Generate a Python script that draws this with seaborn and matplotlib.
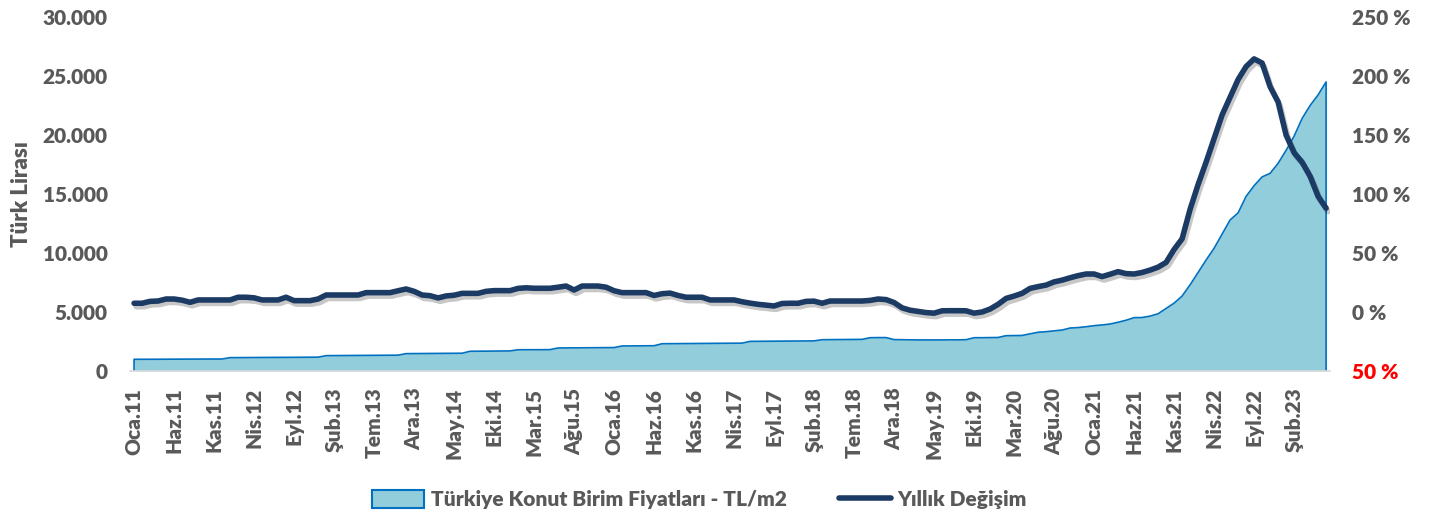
import numpy as np
import pandas as pd
import seaborn as sns
import matplotlib.pyplot as plt
from matplotlib import patheffects as pe
from matplotlib.lines import Line2D
from matplotlib.patches import Patch

'''
Veriler: Ocak 2011 - Haziran 2023, aylik
'''
months_tr = ['Oca', 'Şub', 'Mar', 'Nis', 'May', 'Haz',
             'Tem', 'Ağu', 'Eyl', 'Eki', 'Kas', 'Ara']
n = 150
labels = [months_tr[k % 12] + '.' + str(11 + k // 12) for k in range(n)]

# Türkiye Konut Birim Fiyatları - TL/m2
price = [
    990, 990, 995, 995, 1000, 1000, 1005, 1005, 1010, 1010, 1015, 1015,
    1130, 1135, 1140, 1140, 1145, 1150, 1150, 1155, 1160, 1160, 1165, 1170,
    1300, 1305, 1310, 1315, 1320, 1320, 1325, 1330, 1335, 1340,
    1470, 1475, 1480, 1485, 1490, 1495, 1500, 1505,
    1670, 1675, 1680, 1685, 1690, 1700,
    1800, 1800, 1805, 1805, 1810,
    1950, 1955, 1960, 1965, 1970, 1975, 1980, 1985,
    2120, 2125, 2130, 2135, 2140,
    2310, 2315, 2320, 2325, 2330, 2335, 2340, 2345, 2350, 2355, 2360,
    2510, 2515, 2520, 2525, 2530, 2535, 2540, 2545, 2550,
    2650, 2655, 2660, 2665, 2670, 2680,
    2820, 2830, 2830,
    2660, 2650, 2640, 2630, 2630, 2630, 2630, 2640, 2640, 2650,
    2820, 2820, 2830, 2840,
    2990, 3000, 3010,
    3150, 3280, 3330, 3400, 3470, 3640, 3680, 3750, 3840, 3900,
    3980, 4130, 4300, 4520, 4530, 4650, 4850, 5300, 5750, 6350,
    7300, 8350, 9400, 10400, 11600, 12800, 13400, 14800, 15700, 16450,
    16750, 17600, 18700, 19900, 21400, 22500, 23400, 24500,
]

# Yıllık Değişim (%)
yoy = [
    7.4, 7.4, 9, 9.3, 11, 11, 10, 8.2, 10.2, 10.2,
    10.2, 10.2, 10.2, 12.5, 12.5, 12, 10.2, 10.2, 10.2, 12.5,
    9.6, 9.6, 9.6, 11, 14.4, 14.4, 14.4, 14.4, 14.4, 16.4,
    16.4, 16.4, 16.4, 18, 19.5, 17.5, 14.4, 13.8, 11.9, 13.6,
    14.2, 15.8, 15.8, 15.8, 17.5, 18.1, 18.1, 18.1, 20, 20.5,
    20.1, 20.1, 20.1, 21, 22, 18.6, 22, 22, 22, 21,
    18, 16.4, 16.4, 16.4, 16.4, 14, 15.5, 16, 14, 12.5,
    12.5, 12.5, 10.2, 10.2, 10.2, 10.2, 8.7, 7.5, 6.5, 5.8,
    5.1, 7.2, 7.4, 7.4, 9, 9.2, 7.4, 9.3, 9.3, 9.3,
    9.3, 9.3, 9.8, 11, 10.5, 8, 3.5, 1.5, 0.5, -0.5,
    -1, 1, 1.1, 1.1, 1, -1, 0, 2.5, 6.5, 11.5,
    13.5, 15.8, 20, 21.5, 22.8, 25.5, 27, 29, 30.8, 32.2,
    32.2, 30, 32, 34.2, 32.5, 32.2, 33.5, 35.5, 38, 42,
    53, 62, 87, 108, 127, 147, 167, 182, 197, 208,
    214.5, 211, 191, 178, 150, 135, 127, 115, 98, 88,
]

df = pd.DataFrame({'idx': np.arange(n), 'fiyat': price, 'degisim': yoy})

gray = '#595959'
navy = '#1B3A64'
fill_col = '#92CDDC'
edge_col = '#0070C0'

sns.set_style('white')
plt.rcParams['font.family'] = ['Lato', 'DejaVu Sans']
plt.rcParams['font.weight'] = 'heavy'

fig = plt.figure(figsize=(14.42, 5.19), dpi=100)
ax = fig.add_axes([0.0902, 0.2852, 0.8322, 0.6820])

# alan grafigi
ax.fill_between(df.idx, 0, df.fiyat, color=fill_col, lw=0)
ox = np.concatenate([[df.idx.iloc[0]], df.idx, [df.idx.iloc[-1]]])
oy = np.concatenate([[0], df.fiyat, [0]])
ax.plot(ox, oy, color=edge_col, lw=1.2)

# yillik degisim
ax2 = ax.twinx()
sns.lineplot(data=df, x='idx', y='degisim', ax=ax2, color=navy, lw=4,
             solid_capstyle='round', solid_joinstyle='round',
             path_effects=[pe.SimpleLineShadow(offset=(1.5, -2.5), alpha=0.22),
                           pe.Normal()])

ax.set_xlim(-0.5, n - 0.5)
ax.set_ylim(0, 30000)
ax2.set_ylim(-50, 250)

ax.set_yticks(range(0, 30001, 5000))
ax.set_yticklabels([f'{v:,}'.replace(',', '.') for v in range(0, 30001, 5000)])
ax2.set_yticks(range(-50, 251, 50))
ax2.set_yticklabels([f'{abs(v)} %' for v in range(-50, 251, 50)])

ax.set_xticks(range(0, n, 5))
ax.set_xticklabels(labels[::5], rotation=90)
ax.set_xticks(np.arange(-0.5, n, 5), minor=True)

ax.tick_params(axis='x', which='major', length=0, pad=12, labelsize=15, labelcolor=gray)
ax.tick_params(axis='x', which='minor', length=6, width=1.2, color='#D9D9D9')
ax.tick_params(axis='y', length=0, pad=16, labelsize=15, labelcolor=gray)
ax2.tick_params(axis='y', length=0, pad=16, labelsize=15, labelcolor=gray)
ax2.get_yticklabels()[0].set_color('#FF0000')

ax.set_xlabel('')
ax2.set_xlabel('')
ax2.set_ylabel('')
ax.set_ylabel('Türk Lirası', fontsize=16, color=gray, fontweight='heavy', labelpad=8)

for s in ['left', 'right', 'top']:
    ax.spines[s].set_visible(False)
    ax2.spines[s].set_visible(False)
ax2.spines['bottom'].set_visible(False)
ax.spines['bottom'].set_color('#D9D9D9')
ax.spines['bottom'].set_linewidth(1.2)

handles = [
    Patch(facecolor=fill_col, edgecolor=edge_col, lw=1.5,
          label='Türkiye Konut Birim Fiyatları - TL/m2'),
    Line2D([], [], color=navy, lw=4, solid_capstyle='round', label='Yıllık Değişim'),
]
fig.legend(handles=handles, loc='center', bbox_to_anchor=(0.485, 0.037), ncol=2,
           frameon=False, fontsize=15, handlelength=2.5, handleheight=0.9,
           handletextpad=0.3, columnspacing=2.5, labelcolor=gray)

fig.savefig('out.png', dpi=100)
plt.close()
